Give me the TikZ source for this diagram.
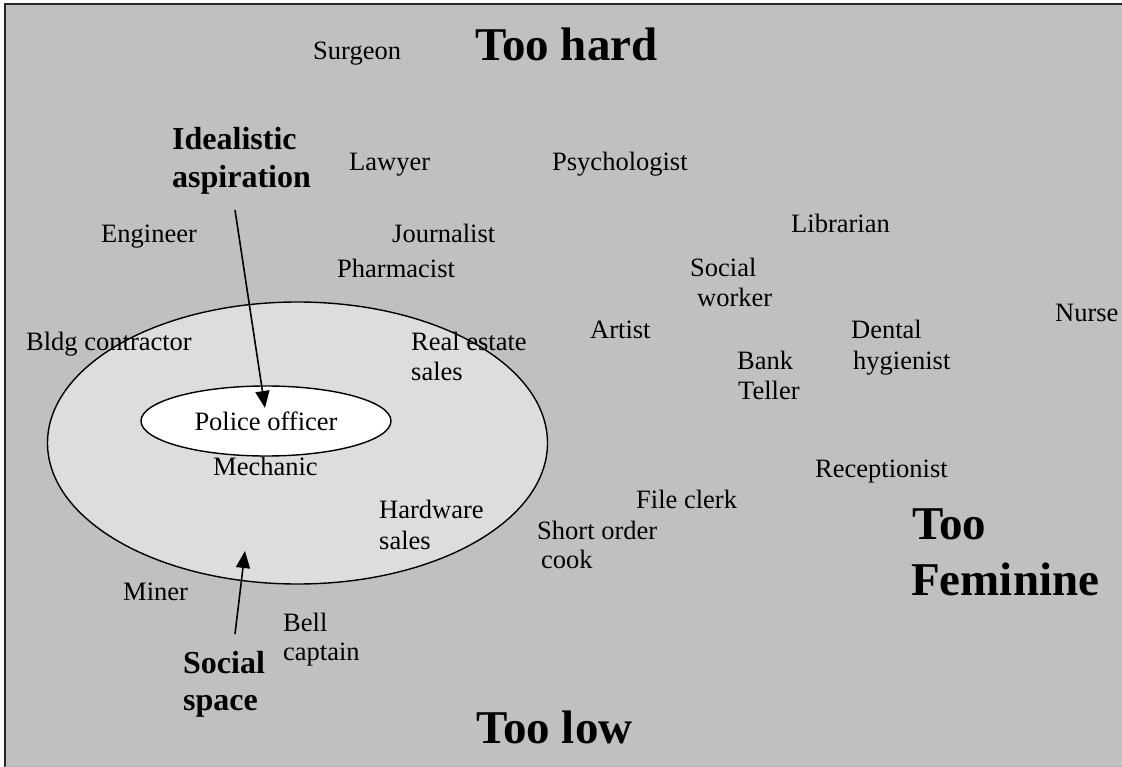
\documentclass[tikz,border=0pt]{standalone}
\usepackage{fontspec}
\setmainfont{Liberation Serif}
\usetikzlibrary{shapes.geometric,arrows.meta}
\definecolor{bggray}{RGB}{192,192,192}
\definecolor{lightgray2}{RGB}{221,221,221}
\tikzset{
  lbl/.style={inner sep=0pt, anchor=base west, font=\fontsize{26.5}{30}\selectfont},
  blbl/.style={inner sep=0pt, anchor=base west, font=\bfseries\fontsize{32}{37}\selectfont},
  biglbl/.style={inner sep=0pt, anchor=base west, font=\bfseries\fontsize{47}{54}\selectfont},
  arr/.style={line width=1.6pt, -{Triangle[length=17pt,width=14pt]}},
}
\begin{document}
\begin{tikzpicture}[x=1pt,y=-1pt]
\useasboundingbox (0,0) rectangle (1122,767);
\fill[bggray] (5,4) rectangle (1122,767);
\draw[line width=1.8pt, black!85] (5,767) -- (5,4) -- (1122,4);
\draw[line width=1pt, black!30] (5,766.5) -- (1122,766.5);

% outer ellipse (social space)
\node[ellipse, draw, line width=1.4pt, fill=lightgray2, minimum width=500pt, minimum height=282pt, inner sep=0pt] (outer) at (297.5,443) {};
% inner ellipse with Police officer
\node[ellipse, draw, line width=1.4pt, fill=white, minimum width=250pt, minimum height=70pt, inner sep=0pt, font=\fontsize{26.5}{30}\selectfont] (police) at (266,421) {Police officer};

% labels
\node[lbl] (surgeon) at (313,60) {Surgeon};
\node[biglbl] (toohard) at (475,61) {Too hard};
\node[blbl] (ideal1) at (172,150) {Idealistic};
\node[blbl] (ideal2) at (172,188) {aspiration};
\node[lbl] (lawyer) at (349,171) {Lawyer};
\node[lbl] (psych) at (552,171) {Psychologist};
\node[lbl] (librarian) at (791,233) {Librarian};
\node[lbl] (engineer) at (101,243) {Engineer};
\node[lbl] (journalist) at (392,243) {Journalist};
\node[lbl] (pharmacist) at (337,278) {Pharmacist};
\node[lbl] (socw1) at (690,277) {Social};
\node[lbl] (socw2) at (697,307) {worker};
\node[lbl] (nurse) at (1055,322) {Nurse};
\node[lbl] (bldg) at (26,350) {Bldg contractor};
\node[lbl] (real1) at (411,350) {Real estate};
\node[lbl] (real2) at (411,380) {sales};
\node[lbl] (artist) at (590,338) {Artist};
\node[lbl] (dental1) at (851,338) {Dental};
\node[lbl] (dental2) at (853,370) {hygienist};
\node[lbl] (bank1) at (737,370) {Bank};
\node[lbl] (bank2) at (738,399) {Teller};
\node[lbl] (mechanic) at (213,475) {Mechanic};
\node[lbl] (receptionist) at (815,477) {Receptionist};
\node[lbl] (fileclerk) at (636,508) {File clerk};
\node[lbl] (hard1) at (379,518) {Hardware};
\node[lbl] (hard2) at (379,549) {sales};
\node[lbl] (short1) at (537,539) {Short order};
\node[lbl] (short2) at (541,568) {cook};
\node[biglbl] (fem1) at (912,539) {Too};
\node[biglbl] (fem2) at (911,595) {Feminine};
\node[lbl] (miner) at (123,600) {Miner};
\node[lbl] (bell1) at (283,631) {Bell};
\node[lbl] (bell2) at (283,660) {captain};
\node[blbl] (social1) at (183,673) {Social};
\node[blbl] (social2) at (183,710) {space};
\node[biglbl] (toolow) at (476,743) {Too low};

% arrows
\coordinate (a1s) at (235,210);
\coordinate (a1e) at (265,408);
\coordinate (a2s) at (235,634);
\coordinate (a2e) at (245,551);
\draw[arr] (a1s) -- (a1e);
\draw[arr] (a2s) -- (a2e);
\end{tikzpicture}
\end{document}
